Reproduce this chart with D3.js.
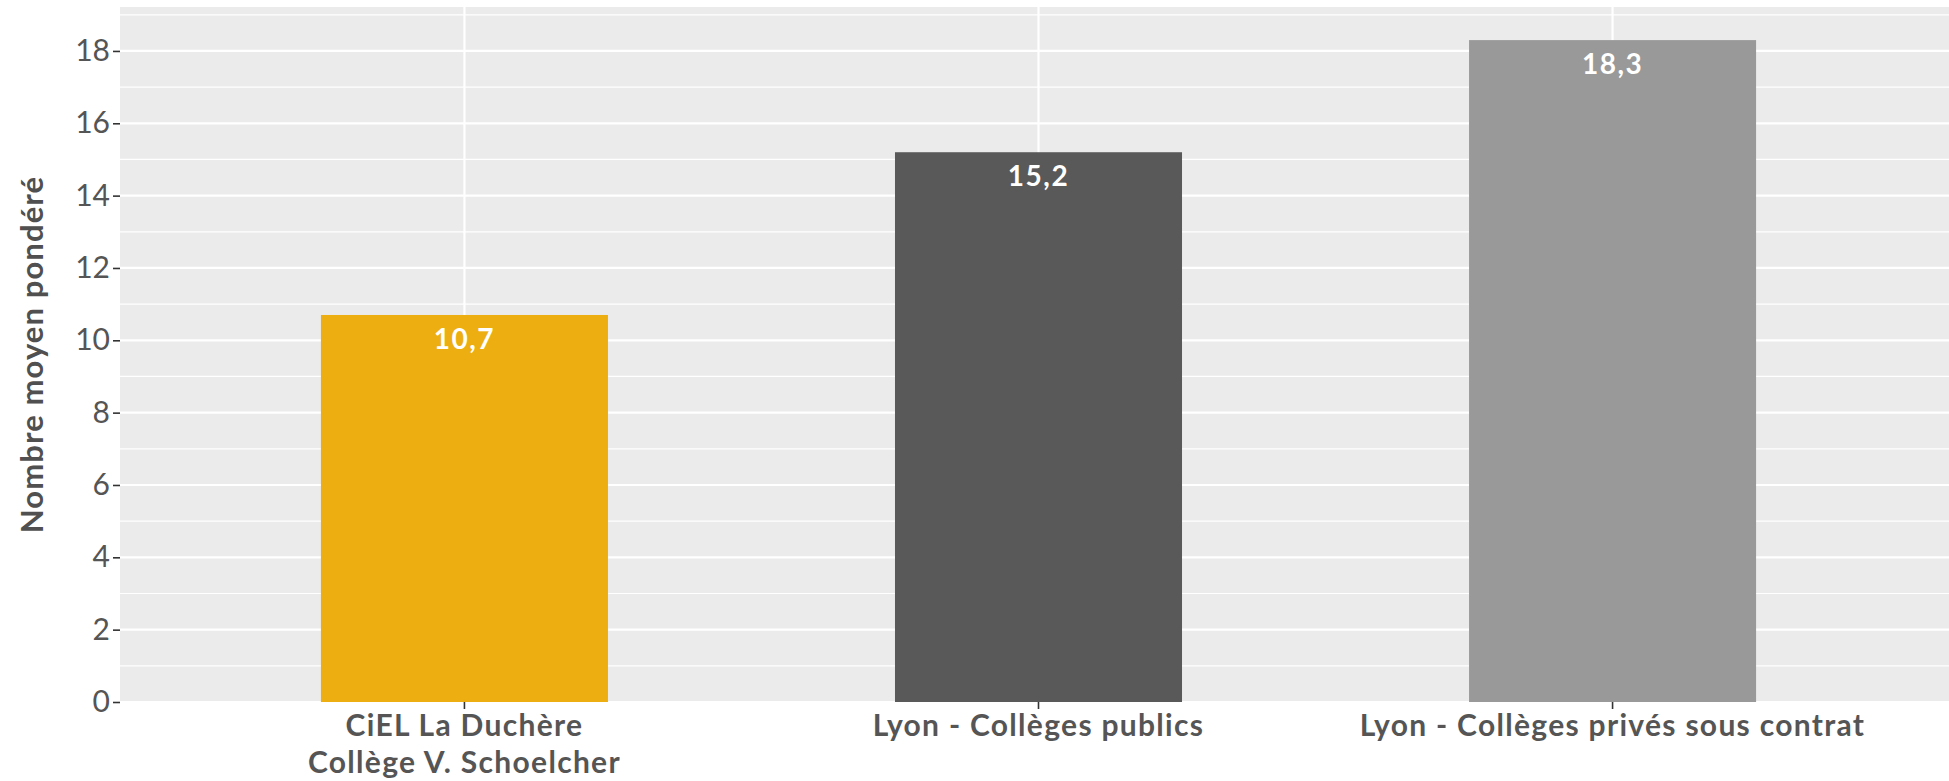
<!DOCTYPE html>
<html>
<head>
<meta charset="utf-8">
<script src="https://cdn.jsdelivr.net/npm/d3@7"></script>
<style>
  html, body { margin: 0; padding: 0; background: #ffffff; }
  svg { display: block; }
</style>
</head>
<body>
<svg id="chart" width="1949" height="781"></svg>
<script>
const categories = ["CiEL La Duchère\nCollège V. Schoelcher", "Lyon - Collèges publics", "Lyon - Collèges privés sous contrat"];
const values = [10.7, 15.2, 18.3];
const valueLabels = ["10,7", "15,2", "18,3"];
const barColors = ["#ECAE10", "#595959", "#999999"];
const yTicks = [0, 2, 4, 6, 8, 10, 12, 14, 16, 18];
const yMinorTicks = [1, 3, 5, 7, 9, 11, 13, 15, 17, 19];
const yTitle = "Nombre moyen pondéré";

const W = 1949, H = 781;
const panel = { left: 120, top: 7, bottom: 702, right: 1957 };
const font = "Lato, 'Open Sans', sans-serif";

const svg = d3.select("#chart");

const yMax = d3.max(values) * 1.05;
const y = d3.scaleLinear().domain([0, yMax]).range([panel.bottom, panel.top]);
const x = d3.scaleBand().domain(categories).range([panel.left, panel.right])
  .paddingInner(0.5).paddingOuter(0.35);

// panel background
svg.append("rect")
  .attr("x", panel.left).attr("y", panel.top)
  .attr("width", W - panel.left).attr("height", panel.bottom - panel.top)
  .attr("fill", "#EBEBEB");

// minor gridlines
svg.append("g").selectAll("line").data(yMinorTicks).join("line")
  .attr("x1", panel.left).attr("x2", W)
  .attr("y1", d => y(d)).attr("y2", d => y(d))
  .attr("stroke", "#ffffff").attr("stroke-width", 1.2);

// major gridlines
svg.append("g").selectAll("line").data(yTicks).join("line")
  .attr("x1", panel.left).attr("x2", W)
  .attr("y1", d => y(d)).attr("y2", d => y(d))
  .attr("stroke", "#ffffff").attr("stroke-width", 2.2);

// vertical gridlines
svg.append("g").selectAll("line").data(categories).join("line")
  .attr("x1", d => x(d) + x.bandwidth() / 2).attr("x2", d => x(d) + x.bandwidth() / 2)
  .attr("y1", panel.top).attr("y2", panel.bottom)
  .attr("stroke", "#ffffff").attr("stroke-width", 2.2);

// bars
svg.append("g").selectAll("rect").data(values).join("rect")
  .attr("x", (d, i) => x(categories[i]))
  .attr("y", d => y(d))
  .attr("width", x.bandwidth())
  .attr("height", d => y(0) - y(d))
  .attr("fill", (d, i) => barColors[i]);

// value labels
svg.append("g").selectAll("text").data(values).join("text")
  .attr("x", (d, i) => x(categories[i]) + x.bandwidth() / 2)
  .attr("y", d => y(d) + 34)
  .attr("text-anchor", "middle")
  .attr("font-family", font).attr("font-weight", "bold")
  .attr("font-size", 28).attr("letter-spacing", 1.5).attr("fill", "#ffffff")
  .text((d, i) => valueLabels[i]);

// y axis
const yAxis = svg.append("g")
  .attr("transform", `translate(${panel.left},0)`)
  .call(d3.axisLeft(y).tickValues(yTicks).tickSize(7).tickPadding(3).tickFormat(d3.format("d")));
yAxis.select(".domain").remove();
yAxis.selectAll(".tick line").attr("stroke", "#333333").attr("stroke-width", 1.6);
yAxis.selectAll(".tick text")
  .attr("font-family", font).attr("font-size", 30).attr("fill", "#555555");

// x axis
const xAxis = svg.append("g")
  .attr("transform", `translate(0,${panel.bottom})`)
  .call(d3.axisBottom(x).tickSize(7).tickFormat(""));
xAxis.select(".domain").remove();
xAxis.selectAll(".tick line").attr("stroke", "#333333").attr("stroke-width", 1.6);
xAxis.selectAll(".tick").each(function(d) {
  const lines = d.split("\n");
  const t = d3.select(this).append("text")
    .attr("text-anchor", "middle")
    .attr("font-family", font).attr("font-weight", "bold")
    .attr("font-size", 30).attr("letter-spacing", 1.3).attr("fill", "#555555");
  lines.forEach((ln, i) => {
    t.append("tspan").attr("x", 0).attr("y", 34 + i * 37).text(ln);
  });
});

// y title
svg.append("text")
  .attr("transform", `translate(43,${(panel.top + panel.bottom) / 2}) rotate(-90)`)
  .attr("text-anchor", "middle")
  .attr("font-family", font).attr("font-weight", "bold")
  .attr("font-size", 31).attr("letter-spacing", 1.1).attr("fill", "#505050")
  .text(yTitle);
</script>
</body>
</html>
